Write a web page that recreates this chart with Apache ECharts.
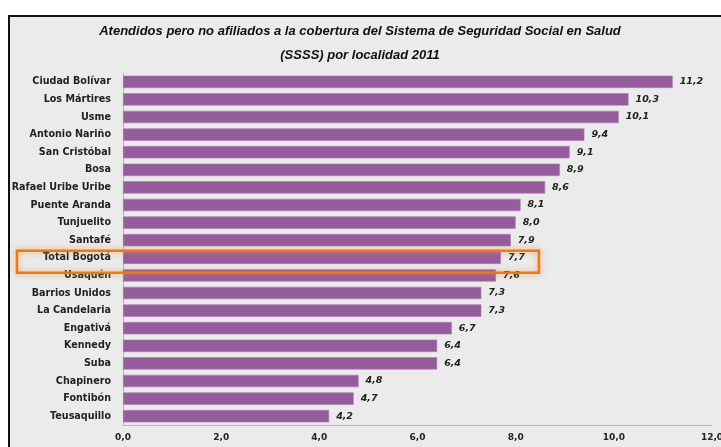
<!DOCTYPE html>
<html>
<head>
<meta charset="utf-8">
<script src="https://cdn.jsdelivr.net/npm/echarts@6/dist/echarts.min.js"></script>
<style>
html,body{margin:0;padding:0;background:#fff;overflow:hidden;}
#frame{position:absolute;left:8px;top:15px;width:713px;height:432px;border-left:2px solid #111;border-top:2px solid #111;background:#ebebeb;box-sizing:border-box;}
#c{position:absolute;left:0;top:0;width:721px;height:447px;}
</style>
</head>
<body>
<div id="frame"></div>
<div id="c"></div>
<script>
const titleLines = ["Atendidos pero no afiliados a la cobertura del Sistema de Seguridad Social en Salud", "(SSSS) por localidad 2011"];
const categories = ["Ciudad Bolívar","Los Mártires","Usme","Antonio Nariño","San Cristóbal","Bosa","Rafael Uribe Uribe","Puente Aranda","Tunjuelito","Santafé","Total Bogotá","Usaquén","Barrios Unidos","La Candelaria","Engativá","Kennedy","Suba","Chapinero","Fontibón","Teusaquillo"];
const values = [11.2,10.3,10.1,9.4,9.1,8.9,8.6,8.1,8.0,7.9,7.7,7.6,7.3,7.3,6.7,6.4,6.4,4.8,4.7,4.2];
const xTicks = [0,2,4,6,8,10,12];
const highlighted = "Total Bogotá";

const chart = echarts.init(document.getElementById('c'), null, {renderer:'canvas', width:721, height:447});
const fmt = v => v.toFixed(1).replace('.', ',');
chart.setOption({
  animation:false,
  backgroundColor:'transparent',
  title:{
    text: titleLines.join('\n'),
    left: 355, textAlign:'center', top: 14,
    textStyle:{fontFamily:'Liberation Sans', fontSize:13, fontWeight:'bold', fontStyle:'italic', color:'#111', lineHeight:24}
  },
  grid:{left:123, right:9, top:73, bottom:22, containLabel:false, outerBoundsMode:'none'},
  xAxis:{
    type:'value', min:xTicks[0], max:xTicks[xTicks.length-1], interval:2,
    axisLine:{show:true, lineStyle:{color:'#b5b5b5', width:1}},
    axisTick:{show:false},
    splitLine:{show:false},
    axisLabel:{formatter:fmt, fontFamily:'DejaVu Sans', fontWeight:'bold', fontSize:9, color:'#222', margin:8}
  },
  yAxis:{
    type:'category', data:categories, inverse:true,
    axisLine:{show:true, lineStyle:{color:'#b5b5b5', width:1}},
    axisTick:{show:false},
    axisLabel:{fontFamily:'DejaVu Sans', fontWeight:'bold', fontSize:9.6, color:'#222', margin:12, interval:0}
  },
  series:[{
    type:'bar', data:values, barCategoryGap:'30%',
    itemStyle:{color:'#955c9c', borderColor:'#b07ab6', borderWidth:0.6},
    label:{show:true, position:'right', distance:7, formatter:p=>fmt(p.value),
      fontFamily:'DejaVu Sans', fontWeight:'bold', fontStyle:'italic', fontSize:9.5, color:'#222'}
  }]
});

const idx = categories.indexOf(highlighted);
const yc = chart.convertToPixel({yAxisIndex:0}, idx);
const xr = chart.convertToPixel({xAxisIndex:0}, values[idx]);
chart.setOption({
  graphic:[{
    type:'rect', z:100,
    shape:{x:17, y:yc-7, width:(xr+38)-17, height:22},
    style:{fill:'rgba(0,0,0,0)', stroke:'#e8791c', lineWidth:2.5, shadowBlur:6, shadowColor:'rgba(240,140,40,0.8)'}
  }]
});
</script>
</body>
</html>
